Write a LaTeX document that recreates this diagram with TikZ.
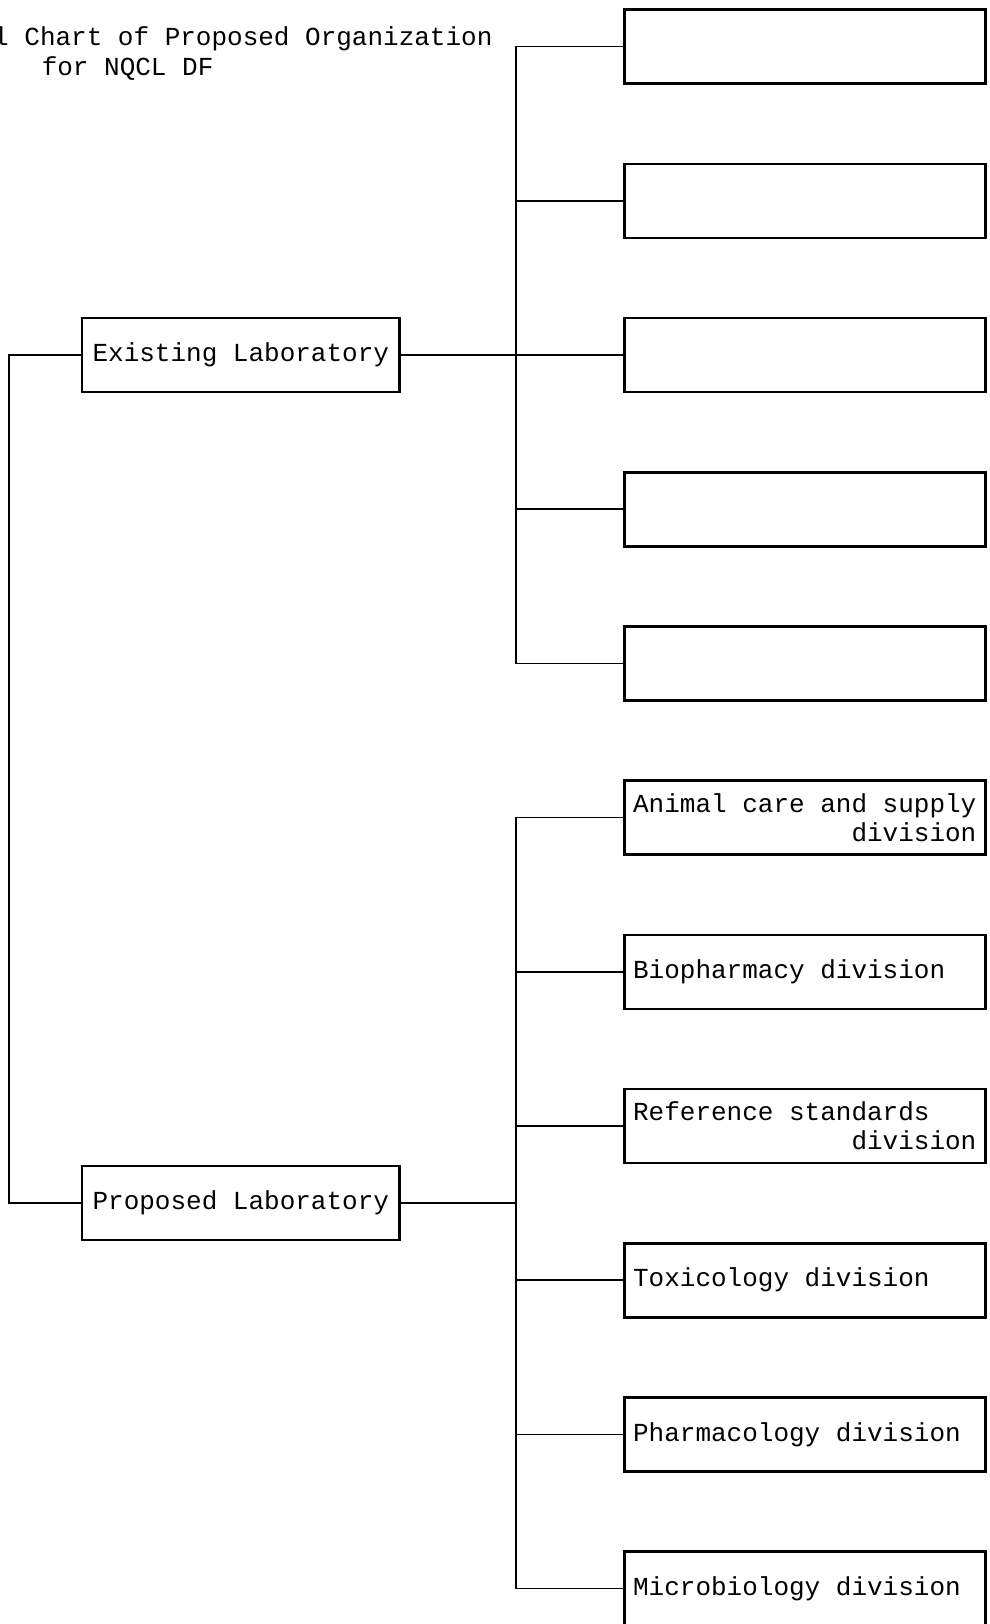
\documentclass[tikz,border=0pt]{standalone}
\usepackage{fontspec}
\newfontfamily\typew{Liberation Mono}[WordSpace={1,0,0}]
\usetikzlibrary{positioning,calc}

\begin{document}
\begin{tikzpicture}[
    node distance=38.8pt and 111.2pt,
    divbox/.style={draw, line width=1.3pt, align=left, minimum height=37pt,
                   text width=172pt, inner xsep=4.3pt,
                   font=\typew\fontsize{13}{14.5}\selectfont,
                   execute at begin node={\spaceskip=7.8pt\xspaceskip=7.8pt\relax}},
    labbox/.style={draw, line width=1.3pt, align=center, minimum height=37pt,
                   minimum width=158.7pt, font=\typew\fontsize{13}{14.5}\selectfont},
    titletext/.style={anchor=base west, inner sep=0pt, font=\typew\fontsize{13}{16}\selectfont},
    link/.style={line width=0.8pt}
]
\useasboundingbox (0,0) rectangle (495pt,-812pt);

\node[titletext] (title) at (-3.6pt,-22.5pt) {l Chart of Proposed Organization};
\node[titletext] (subtitle) at (20.7pt,-37.5pt) {for NQCL DF};

% units of the existing laboratory
\node[divbox] (e1) at (402.55pt,-23.3pt) {};
\node[divbox, below=of e1] (e2) {};
\node[divbox, below=of e2] (e3) {};
\node[divbox, below=of e3] (e4) {};
\node[divbox, below=of e4] (e5) {};

% divisions of the proposed laboratory
\node[divbox, below=of e5] (p1) {Animal care and supply\\\hspace*{8.4em}division};
\node[divbox, below=of p1] (p2) {Biopharmacy division};
\node[divbox, below=of p2] (p3) {Reference standards\\\hspace*{8.4em}division};
\node[divbox, below=of p3] (p4) {Toxicology division};
\node[divbox, below=of p4] (p5) {Pharmacology division};
\node[divbox, below=of p5] (p6) {Microbiology division};

\coordinate (pmid) at ($(p3.west)!0.5!(p4.west)$);
\node[labbox, left=of e3] (exist) {Existing Laboratory};
\node[labbox, left=of pmid] (prop) {Proposed Laboratory};

\draw[link] (exist.west) -- ++(-36pt,0) |- (prop.west);
\foreach \u in {e1,e2,e3,e4,e5}
    \draw[link] (exist.east) -- ++(57.5pt,0) |- (\u.west);
\foreach \u in {p1,p2,p3,p4,p5,p6}
    \draw[link] (prop.east) -- ++(57.5pt,0) |- (\u.west);
\end{tikzpicture}
\end{document}
